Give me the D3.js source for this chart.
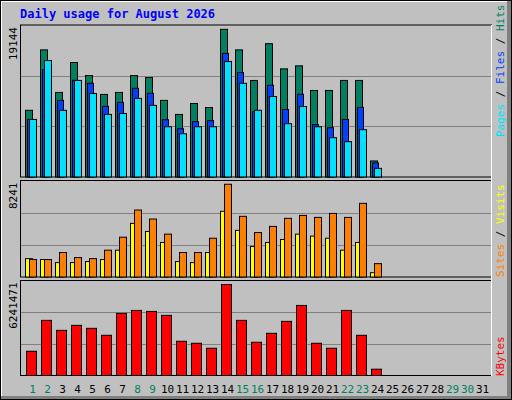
<!DOCTYPE html>
<html><head><meta charset="utf-8">
<script src="https://cdn.jsdelivr.net/npm/d3@7"></script>
<style>body{margin:0;background:#fff}</style></head>
<body><svg id="c" width="512" height="400"></svg>
<script>
const days = d3.range(1, 32);
const weekendDays = [1,2,8,9,15,16,22,23,29,30];
const hits  = [8400,16010,10650,14420,12780,10400,10650,12780,12530,9650,7880,9260,8750,18600,16010,12160,16790,13620,14000,10900,10900,12160,12160,2020];
const files = [7250,13540,9650,12180,11800,8900,9400,11170,10540,7210,6080,6970,7100,15570,13160,8220,11550,8500,10420,6590,6210,7250,8760,1770];
const pages = [7250,14670,8400,12160,10520,7880,8000,9900,9020,6330,5450,6330,6330,14540,11800,8400,10140,6710,8880,6330,4950,4450,5960,1090];
const visits = [1490,1490,2090,1660,1570,2290,3400,5720,4950,3660,2090,2090,3310,7920,5180,3800,4320,5010,5260,5090,5430,5090,6290,1140];
const sites  = [1570,1490,1230,1230,1320,1490,2290,4580,3890,2950,1320,1230,2090,5610,3980,2600,2950,3200,3660,3490,3310,2290,2950,370];
const kbytes = [1592000,3622000,2968000,3295000,3099000,2641000,4080000,4276000,4210000,3950000,2248000,2117000,1790000,5979000,3622000,2183000,2772000,3557000,4603000,2117000,1790000,4276000,2641000,415000];
const maxHits = 19144, maxVisits = 8241, maxKB = 6241471;

const svg = d3.select("#c");
// frame
svg.append("rect").attr("x",0).attr("y",0).attr("width",512).attr("height",400).attr("fill","#C0C0C0");
svg.append("path").attr("d","M1,399V1H511").attr("stroke","#fff").attr("stroke-width",2).attr("fill","none");
svg.append("path").attr("d","M1,398H509V1").attr("stroke","#808080").attr("stroke-width",4).attr("fill","none");
svg.append("rect").attr("x",0.5).attr("y",0.5).attr("width",511).attr("height",399).attr("fill","none").attr("stroke","#000");

svg.append("text").attr("x",20).attr("y",18).attr("fill","#0000FF").attr("font-family","DejaVu Sans Mono")
  .attr("font-weight","bold").attr("font-size",12).text("Daily usage for August 2026");

const x = d3.scaleLinear().domain([1,32]).range([25, 25+15*31]);
const L = 20, R = 491;
const panels = [{t:25,b:177},{t:180.5,b:277},{t:280.5,b:375.5}];
panels.forEach(p=>{
  svg.append("rect").attr("x",L+0.5).attr("y",p.t).attr("width",R-L).attr("height",p.b-p.t)
    .attr("fill","#C0C0C0").attr("stroke","#000");
  const h = p.b-p.t;
  [1,2].forEach(k=>svg.append("line").attr("x1",L+1).attr("x2",R).attr("y1",Math.round(p.t+h*k/3)+0.5).attr("y2",Math.round(p.t+h*k/3)+0.5).attr("stroke","#808080"));
});
svg.append("line").attr("x1",R+0.5).attr("x2",R+0.5).attr("y1",25).attr("y2",376).attr("stroke","#fff");

function bars(data, max, p, off, w, color){
  const y = d3.scaleLinear().domain([0,max]).range([p.b, p.t]);
  svg.append("g").selectAll("rect").data(data).join("rect")
    .attr("x",(d,i)=>x(i+1)+off+0.5).attr("y",d=>y(d)).attr("width",w).attr("height",d=>p.b-y(d))
    .attr("fill",color).attr("stroke","#000");
}
bars(hits, maxHits, panels[0], 0, 7, "#008060");
bars(files, maxHits, panels[0], 2, 6, "#0040FF");
bars(pages, maxHits, panels[0], 4, 7, "#00E0FF");
bars(sites, maxVisits, panels[1], 0, 7, "#FFFF00");
bars(visits, maxVisits, panels[1], 4, 7, "#FF8000");
bars(kbytes, maxKB, panels[2], 1, 10, "#FF0000");

// left labels
[[maxHits,panels[0]],[maxVisits,panels[1]],[maxKB,panels[2]]].forEach(([v,p])=>{
  svg.append("text").attr("transform",`translate(17,${p.t+2}) rotate(-90)`).attr("text-anchor","end")
    .attr("font-family","DejaVu Sans Mono").attr("font-size",11).attr("fill","#000").text(v);
});
// right labels
function rlabel(parts, yStart){
  const t = svg.append("text").attr("transform",`translate(504,${yStart}) rotate(-90)`)
    .attr("font-family","DejaVu Sans Mono").attr("font-size",11);
  parts.forEach(([s,c])=>t.append("tspan").attr("fill",c).text(s));
}
rlabel([["Pages","#00E0FF"],[" / ","#000"],["Files","#0040FF"],[" / ","#000"],["Hits","#008060"]],137);
rlabel([["Sites","#FF8000"],[" / ","#000"],["Visits","#FFFF00"]],277);
rlabel([["KBytes","#FF0000"]],376);

// x labels
svg.append("g").selectAll("text").data(days).join("text")
  .attr("x",d=>x(d)+7.5).attr("y",393).attr("text-anchor","middle")
  .attr("font-family","DejaVu Sans Mono").attr("font-size",11)
  .attr("fill",d=>weekendDays.includes(d)?"#008060":"#000").text(d=>d);
</script></body></html>
